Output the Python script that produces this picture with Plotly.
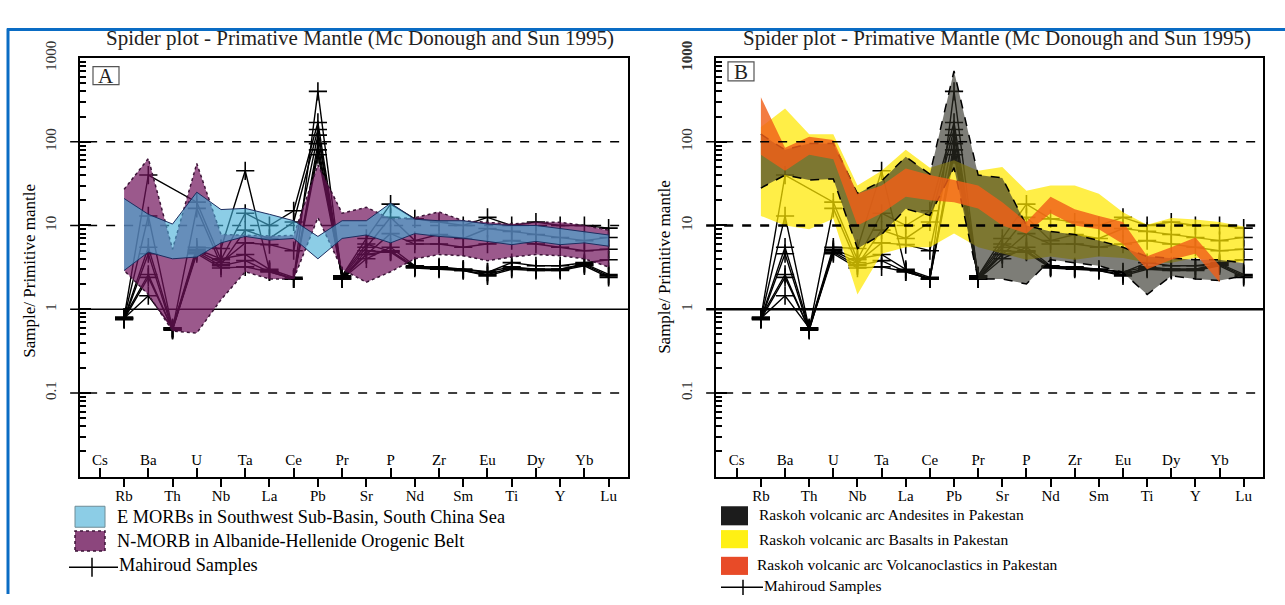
import plotly.graph_objects as go

W, H = 1285, 605
SERIF = "Liberation Serif, Times New Roman, serif"

# ---------------- data ----------------
elements = ["Cs", "Rb", "Ba", "Th", "U", "Nb", "Ta", "La", "Ce", "Pb", "Pr",
            "Sr", "P", "Nd", "Zr", "Sm", "Eu", "Ti", "Dy", "Y", "Yb", "Lu"]
upper_row_labels = elements[0::2]
lower_row_labels = elements[1::2]
band_elements = elements[1:]          # Rb .. Lu
orange_elements = elements[1:-1]      # Rb .. Yb

y_tick_values = [0.01, 0.1, 1, 10, 100, 1000]
y_tick_text_a = ["0.01", "0.1", "1", "10", "100", "1000"]
y_tick_text_b = ["0.01", "0.1", "1", "10", "100", "<b>1000</b>"]
ref_levels = [100, 10, 1, 0.1]
ref_dash = ["dash", "dash", "solid", "dash"]
ref_width_a = [1.5, 1.5, 1.5, 1.5]
ref_width_b = [1.5, 2.5, 2.5, 1.5]

# Mahiroud samples (Rb .. Lu); None = not plotted
sample_1 = [0.80, 40, None, 19, 3.9, 14, 10, 15, 170, 2.5, 7.0, 18, 12, 11, 10, 12.5, 10, 11, 10, 10, 9.3]
sample_2 = [0.78, 13, 0.58, 16, 3.4, 8.8, 7.0, 11, 140, 2.4, 5.5, 12.5, 6.6, 7.8, 7.0, 9.2, 8.5, 7.8, 7.2, 6.6, 7.2]
sample_3 = [0.77, 5.5, 0.60, 5.5, 5.3, 45, 2.9, 2.3, 400, 2.3, 4.5, 8.0, 6.0, 6.0, 5.5, 6.0, 6.6, 6.0, 5.5, 5.0, 5.2]
sample_4 = [0.75, 4.6, 0.56, 5.0, 3.6, 6.2, 5.9, 5.0, 120, 2.3, 4.0, 5.5, 3.3, 3.1, 3.0, 2.75, 3.6, 3.3, 3.3, 3.6, 3.9]
sample_5 = [0.80, 2.6, 0.57, 4.6, 3.1, 3.2, 2.8, 2.3, 95, 2.3, 5.0, 4.8, 3.1, 3.0, 2.9, 2.5, 3.0, 2.9, 2.9, 3.3, 2.4]
sample_6 = [0.76, 2.4, 0.58, 5.2, 4.0, 4.5, 3.0, 2.4, 80, 2.5, 6.0, 4.9, 3.2, 3.2, 3.0, 2.8, 3.2, 3.0, 3.0, 3.4, 2.5]
sample_7 = [0.78, 1.45, 0.60, 4.8, 3.3, 3.8, 2.8, 2.3, 70, 2.4, 4.5, 5.0, 3.2, 3.1, 2.9, 2.6, 3.1, 3.0, 3.0, 3.5, 2.6]
samples = [sample_1, sample_2, sample_3, sample_4, sample_5, sample_6, sample_7]

# Panel A bands (Rb .. Lu)
emorb_upper = [21, 13.6, 10.4, 25, 15.5, 16, 13.6, 11.4, 7.4, 11.4, 11.4, 18.5, 11.9, 11.4, 11.4, 10.4, 10, 10, 9.2, 8.4, 7.7]
emorb_lower = [2.9, 4.8, 4.0, 4.2, 6.2, 7.4, 6.7, 7.0, 4.0, 7.0, 7.7, 6.2, 8.0, 7.4, 7.05, 6.45, 5.9, 6.45, 5.9, 6.2, 5.66]
nmorb_upper = [27, 63, 5.2, 55, 7.8, 7.6, 7.5, 7.6, 53, 14, 16.5, 12, 12.4, 14.5, 11.4, 10.9, 10.4, 10.9, 10.9, 10, 8.8]
nmorb_lower = [2.9, 1.5, 0.55, 0.52, 1.3, 2.8, 2.3, 2.3, 12.4, 3.0, 2.1, 2.8, 4.0, 4.5, 4.35, 3.8, 4.2, 4.5, 4.35, 4.0, 3.2]

# Panel B bands
basalt_upper = [150, 250, 123, 123, 30, 45, 80, 49, 60, 45, 50, 26, 30, 30, 24, 14.4, 10.2, 12.3, 11.8, 11, 9.7]
basalt_lower = [13, 10, 9, 12, 1.5, 4.6, 5.5, 5.5, 8, 5.5, 4.6, 3.9, 4.25, 3.9, 4.25, 4.1, 3.6, 3.6, 4.1, 3.7, 3.6]
andesite_upper = [123, 80, 95, 95, 24, 34, 66, 41, 700, 40, 37, 10, 8.5, 7.8, 6.6, 5.5, 4.25, 4.1, 3.9, 3.9, 3.55]
andesite_lower = [28, 40, 35, 36, 5.3, 7.8, 15.8, 13.2, 49, 2.3, 2.3, 2.0, 3.9, 3.6, 3.3, 2.75, 1.5, 2.5, 2.3, 2.2, 2.5]
volc_upper = [340, 85, 115, 105, 24, 30, 48, 40, 35, 30, 19, 11, 22, 15.6, 13, 11, 4.3, 5.5, 7.2, 3.3]
volc_lower = [70, 45, 70, 62, 10, 14, 22, 20, 19, 16, 10, 8, 14, 10, 9, 6, 3.0, 3.9, 4.6, 2.1]

title_text = "Spider plot - Primative Mantle (Mc Donough and Sun 1995)"
y_title = "Sample/ Primitive mantle"
legend_a = ["E MORBs in Southwest Sub-Basin, South China Sea",
            "N-MORB in Albanide-Hellenide Orogenic Belt",
            "Mahiroud Samples"]
legend_b = ["Raskoh volcanic arc Andesites in Pakestan",
            "Raskoh volcanic arc Basalts in Pakestan",
            "Raskoh volcanic arc Volcanoclastics in Pakestan",
            "Mahiroud Samples"]


def px(p):
    return p / W


def py(p):
    return 1 - p / H


fig = go.Figure()


def add_samples(xa, ya):
    for s in samples:
        fig.add_trace(go.Scatter(
            x=band_elements, y=s, xaxis=xa, yaxis=ya, mode="lines+markers",
            line=dict(color="black", width=1.4),
            marker=dict(symbol="cross-thin", size=13, color="black",
                        line=dict(color="black", width=1.6)),
            connectgaps=True, showlegend=False, hoverinfo="skip"))


def add_band(xa, ya, els, upper, lower, fillcolor, line):
    fig.add_trace(go.Scatter(
        x=els + els[::-1], y=upper + lower[::-1], xaxis=xa, yaxis=ya,
        mode="lines", fill="toself", fillcolor=fillcolor, line=line,
        showlegend=False, hoverinfo="skip"))


# Panel A
add_samples("x", "y")
add_band("x", "y", band_elements, nmorb_upper, nmorb_lower, "rgba(112,19,91,0.70)",
         dict(color="rgb(60,20,55)", width=1.5, dash="dot"))
add_band("x", "y", band_elements, emorb_upper, emorb_lower, "rgba(69,174,215,0.62)",
         dict(color="rgb(30,45,95)", width=1))
fig.add_trace(go.Scatter(x=upper_row_labels, y=[None] * len(upper_row_labels),
                         xaxis="x3", yaxis="y", mode="markers",
                         showlegend=False, hoverinfo="skip"))

# Panel B
add_samples("x2", "y2")
add_band("x2", "y2", band_elements, basalt_upper, basalt_lower, "rgba(255,232,0,0.72)",
         dict(width=0))
add_band("x2", "y2", band_elements, andesite_upper, andesite_lower, "rgba(45,45,35,0.62)",
         dict(color="black", width=1.5, dash="dash"))
add_band("x2", "y2", orange_elements, volc_upper, volc_lower, "rgba(240,95,25,0.82)",
         dict(width=0))
fig.add_trace(go.Scatter(x=upper_row_labels, y=[None] * len(upper_row_labels),
                         xaxis="x4", yaxis="y2", mode="markers",
                         showlegend=False, hoverinfo="skip"))

# ---------------- axes ----------------
minor_vals = [m * 10 ** d for d in range(-2, 3) for m in range(2, 10)]
ydom = [py(482), py(43)]
tickfont = dict(family=SERIF, size=15, color="black")


def x_main(dom, rng, anchor):
    return dict(domain=dom, anchor=anchor, type="category", categoryarray=elements,
                range=rng, tickmode="array", tickvals=lower_row_labels,
                ticks="outside", ticklen=8, tickwidth=1.5, tickcolor="black",
                showline=True, linecolor="black", linewidth=2, mirror=True,
                showgrid=False, zeroline=False, tickfont=tickfont,
                ticklabelstandoff=-4)


def x_upper(over, anchor, rng):
    return dict(overlaying=over, anchor=anchor, side="bottom", type="category",
                categoryarray=elements, range=rng, tickmode="array",
                tickvals=upper_row_labels, ticks="inside", ticklen=9, tickwidth=1.5,
                tickcolor="black", ticklabelposition="inside", showline=False,
                showgrid=False, zeroline=False, tickfont=tickfont)


def y_axis(anchor, ticktext):
    return dict(domain=ydom, anchor=anchor, type="log", range=[-2, 3],
                tickmode="array", tickvals=y_tick_values, ticktext=ticktext,
                tickangle=-90, ticks="inside", ticklen=11, tickwidth=1.5,
                tickcolor="black", showline=True, linecolor="black", linewidth=2,
                mirror=True, showgrid=False, zeroline=False,
                tickfont=dict(family=SERIF, size=15, color="#333"),
                ticklabelstandoff=16,
                minor=dict(tickmode="array", tickvals=minor_vals, ticks="inside",
                           ticklen=6, tickwidth=1.5, tickcolor="black", showgrid=False))


rng_a = [-0.82, 21.8]
rng_b = [-0.86, 21.8]
fig.update_layout(
    xaxis=x_main([px(80), px(628)], rng_a, "y"),
    xaxis3=x_upper("x", "y", rng_a),
    yaxis=y_axis("x", y_tick_text_a),
    xaxis2=x_main([px(716), px(1263)], rng_b, "y2"),
    xaxis4=x_upper("x2", "y2", rng_b),
    yaxis2=y_axis("x2", y_tick_text_b),
)

# ---------------- decorations ----------------
shapes = []
for ya, widths in (("y", ref_width_a), ("y2", ref_width_b)):
    xd = "x domain" if ya == "y" else "x2 domain"
    for lev, dsh, w in zip(ref_levels, ref_dash, widths):
        shapes.append(dict(type="line", xref=xd, yref=ya, x0=-0.018, x1=1, y0=lev, y1=lev,
                           line=dict(color="black", width=w, dash=dsh),
                           layer="below" if ya == "y" else "above"))

# blue frame
shapes.append(dict(type="line", xref="paper", yref="paper", x0=px(7), x1=1, y0=py(13), y1=py(13),
                   line=dict(color="#0A6CC4", width=3)))
shapes.append(dict(type="line", xref="paper", yref="paper", x0=px(8), x1=px(8), y0=py(12), y1=0,
                   line=dict(color="#0A6CC4", width=3)))

annotations = []
# titles
for cx in (360, 997):
    annotations.append(dict(text=title_text, x=px(cx), y=py(22), xref="paper", yref="paper",
                            showarrow=False, xanchor="center", yanchor="middle",
                            font=dict(family=SERIF, size=21, color="#222")))
# y titles
for cx, cy in ((30, 266), (665, 262)):
    annotations.append(dict(text=y_title, x=px(cx), y=py(cy), xref="paper", yref="paper",
                            showarrow=False, textangle=-90, xanchor="center", yanchor="middle",
                            font=dict(family=SERIF, size=17, color="black")))
# panel letters in boxes
for letter, x0, y0, x1, y1 in (("A", 93, 52, 119, 71), ("B", 728, 47, 754, 67)):
    shapes.append(dict(type="rect", xref="paper", yref="paper", x0=px(x0), x1=px(x1),
                       y0=py(y1), y1=py(y0), line=dict(color="#555", width=1.2)))
    annotations.append(dict(text=letter, x=px((x0 + x1) / 2), y=py((y0 + y1) / 2 + 0.5),
                            xref="paper", yref="paper", showarrow=False,
                            xanchor="center", yanchor="middle",
                            font=dict(family=SERIF, size=21, color="#222")))


# manual legends
def legend_box(x0, x1, y0, y1, fill, line):
    shapes.append(dict(type="rect", xref="paper", yref="paper", x0=px(x0), x1=px(x1),
                       y0=py(y1), y1=py(y0), fillcolor=fill, line=line))


def legend_text(text, x, y, size):
    annotations.append(dict(text=text, x=px(x), y=py(y), xref="paper", yref="paper",
                            showarrow=False, xanchor="left", yanchor="middle",
                            font=dict(family=SERIF, size=size, color="black")))


def legend_cross(x0, x1, xc, yc, half):
    shapes.append(dict(type="line", xref="paper", yref="paper", x0=px(x0), x1=px(x1),
                       y0=py(yc), y1=py(yc), line=dict(color="black", width=1.5)))
    shapes.append(dict(type="line", xref="paper", yref="paper", x0=px(xc), x1=px(xc),
                       y0=py(yc - half), y1=py(yc + half), line=dict(color="black", width=1.5)))


legend_box(75, 105, 513, 535, "rgb(140,205,230)", dict(color="rgb(110,140,150)", width=1))
legend_text(legend_a[0], 115, 524, 18.3)
legend_box(75, 105, 539, 560, "rgb(140,70,125)", dict(color="rgb(60,20,55)", width=1.5, dash="dot"))
legend_text(legend_a[1], 115, 549, 18.3)
legend_cross(69, 118, 92, 577, 10)
legend_text(legend_a[2], 117, 575, 18.3)

legend_box(721, 748, 513, 533, "rgb(28,28,28)", dict(width=0))
legend_text(legend_b[0], 757, 522, 15.5)
legend_box(721, 748, 538, 557, "rgb(255,240,20)", dict(width=0))
legend_text(legend_b[1], 757, 548, 15.5)
legend_box(721, 748, 566, 585, "rgb(232,75,40)", dict(width=0))
legend_text(legend_b[2], 755, 574, 15.5)
legend_cross(721, 763, 743, 598, 8)
legend_text(legend_b[3], 762, 596, 15.5)

fig.update_layout(
    width=W, height=H, margin=dict(l=0, r=0, t=0, b=0),
    paper_bgcolor="white", plot_bgcolor="white",
    showlegend=False, shapes=shapes, annotations=annotations,
    font=dict(family=SERIF, color="black"),
)

fig.write_html("out.html")
